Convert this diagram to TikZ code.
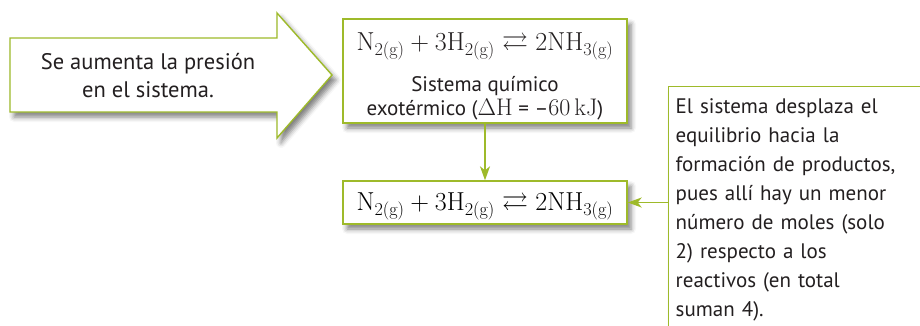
\RequirePackage{fix-cm}
\documentclass[tikz,border=0pt]{standalone}
\usepackage{amsmath,amssymb}
\usepackage[no-math]{fontspec}
\setmainfont{PT Sans}
\usetikzlibrary{arrows.meta,shadows.blur}
\definecolor{verdeborde}{RGB}{158,186,42}
\definecolor{tinta}{RGB}{35,31,32}
\tikzset{
  sombra/.style={blur shadow={shadow xshift=4pt, shadow yshift=-5pt, shadow blur radius=5pt, shadow opacity=50}},
  caja/.style={draw=verdeborde, line width=1.4pt, fill=white, sombra, align=center, inner sep=0pt, minimum width=284pt},
  flecha/.style={verdeborde, line width=1.3pt, -{Stealth[length=14pt, width=10pt, inset=4pt]}},
  texto/.style={font=\fontsize{21}{29}\selectfont, text=tinta}
}
\newcommand{\reaccion}{\fontsize{26}{28}\selectfont$\mathrm{N}_{2(\mathrm{g})} + 3\mathrm{H}_{2(\mathrm{g})} \rightleftarrows 2\mathrm{NH}_{3(\mathrm{g})}$}
\newcommand{\serif}[1]{{\fontsize{24}{22}\selectfont$#1$}}
\begin{document}
\begin{tikzpicture}[x=1pt, y=-1pt]
\useasboundingbox (0,0) rectangle (920,325);
% flecha grande de la izquierda
\draw[verdeborde, line width=1.4pt, fill=white, sombra] (10,38) -- (277,38) -- (277,13) -- (332,75) -- (277,138) -- (277,112) -- (10,112) -- cycle;
\node[texto, font=\fontsize{22.5}{28}\selectfont, align=center] (pres) at (148,76) {Se aumenta la presión\\en el sistema.};
% cajas de la reaccion
\node[caja, texto, minimum height=104pt] (react) at (485,71)
  {\rule{0pt}{29pt}\reaccion\\[12pt] \fontsize{21}{22}\selectfont Sistema químico\\[-5pt] \fontsize{21}{22}\selectfont exotérmico (\serif{\Delta\mathrm{H}} = –\serif{60\,\mathrm{kJ}})};
\node[caja, minimum height=43pt] (eq) at (485,202.5) {\rule{0pt}{26pt}\reaccion};
% explicacion
\node[caja, texto, anchor=north west, minimum width=0pt, text width=250pt, align=left, inner xsep=7pt, inner ysep=12pt] (expl) at (668,86)
  {El sistema desplaza el\\ equilibrio hacia la\\ formación de productos,\\ pues allí hay un menor\\ número de moles (solo\\ 2) respecto a los\\ reactivos (en total\\ suman 4).\\ \strut};
\draw[flecha] (react.south) -- (eq.north);
\draw[flecha] (eq.east -| expl.west) -- (eq.east);
\end{tikzpicture}
\end{document}
